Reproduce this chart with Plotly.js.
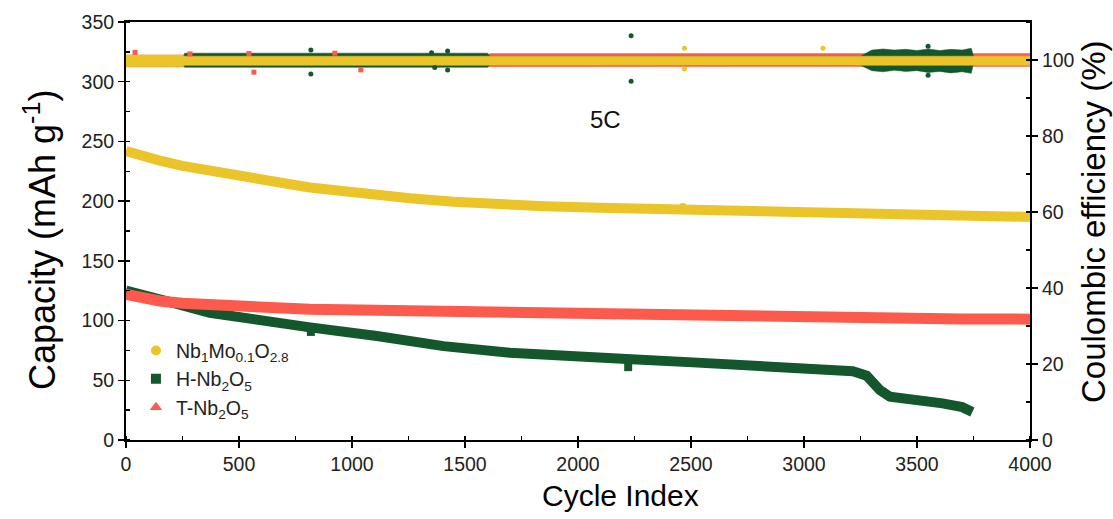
<!DOCTYPE html>
<html>
<head>
<meta charset="utf-8">
<script src="https://cdn.plot.ly/plotly-3.0.1.min.js"></script>
<style>html,body{margin:0;padding:0;background:#fff}#chart{width:1113px;height:519px}</style>
</head>
<body>
<div id="chart"></div>
<script>
// ---- Capacity data (mAh g-1) ----
var yellowCycles = [0, 50, 150, 250, 372, 500, 593, 700, 814, 1035, 1256, 1450, 1654, 1850, 2097, 2300, 2464, 2614, 2800, 3000, 3070, 3100, 3424, 3700, 4000];
var yellowCap    = [242, 240, 234, 229.5, 225, 221, 218.4, 215, 211.4, 206.1, 202.4, 199.5, 197, 195.8, 194.5, 193.5, 192.6, 191.9, 191.2, 190.8, 190.5, 189.5, 188.4, 187.6, 186.8];

var greenCycles = [0, 50, 150, 225, 371, 520, 814, 1110, 1405, 1699, 1920, 2215, 2508, 2804, 3025, 3150, 3216, 3277, 3335, 3380, 3465, 3613, 3700, 3745];
var greenCap    = [125, 123, 118, 114, 106.5, 101.9, 94.3, 87.1, 78.6, 73.1, 70.3, 67.8, 65, 62.2, 61.1, 60, 57.5, 53.9, 41.9, 36.3, 34.9, 30.7, 27.5, 23.5];

var redCycles = [0, 50, 150, 250, 371, 500, 593, 814, 1035, 1256, 1500, 1699, 1965, 2300, 2656, 3000, 3392, 3700, 4000];
var redCap    = [122, 120, 116.4, 114.5, 113, 111.2, 110.2, 109.4, 108.8, 108.2, 107.3, 106.6, 104.8, 103.2, 102.2, 101.8, 101.5, 101.3, 101.2];

// capacity outliers
var yellowCapOutX = [2464];
var yellowCapOutY = [195];
var greenCapOutX  = [818, 2222];
var greenCapOutY  = [90.5, 61];

// ---- Coulombic efficiency (%) bands: cycle, upper edge, lower edge ----
var yellowCeX     = [0, 250, 260, 4000];
var yellowCeUpper = [101.3, 101.3, 101.0, 101.0];
var yellowCeLower = [98.3, 98.3, 98.6, 98.6];

var greenCeX     = [0, 250, 260, 1600, 1610, 3250, 3300, 3350, 3400, 3450, 3500, 3550, 3600, 3650, 3700, 3740, 3750];
var greenCeUpper = [100.6, 100.6, 101.8, 101.8, 101.0, 101.0, 102.6, 102.9, 102.6, 102.8, 102.5, 102.9, 102.5, 102.8, 102.6, 103.1, 101.0];
var greenCeLower = [99.2, 99.2, 98.1, 98.1, 98.6, 98.6, 97.2, 96.9, 97.3, 97.0, 97.2, 96.7, 97.0, 96.6, 96.9, 96.5, 99.0];

var redCeX     = [0, 1600, 1610, 4000];
var redCeUpper = [101.3, 101.3, 101.7, 101.7];
var redCeLower = [98.2, 98.2, 98.3, 98.3];

// CE outliers
var yellowCeOutX = [2471, 2471, 3084];
var yellowCeOutY = [103.1, 97.6, 103.1];
var greenCeOutX  = [818, 818, 1352, 1366, 1423, 1423, 2235, 2235, 3549, 3549];
var greenCeOutY  = [102.6, 96.3, 101.9, 98.0, 102.4, 97.4, 106.4, 94.4, 103.6, 96.0];
var redCeOutX    = [40, 283, 544, 566, 924, 1039];
var redCeOutY    = [102.0, 101.6, 101.7, 96.8, 101.8, 97.4];

// labels
var seriesNames = ['Nb<sub>1</sub>Mo<sub>0.1</sub>O<sub>2.8</sub>', 'H-Nb<sub>2</sub>O<sub>5</sub>', 'T-Nb<sub>2</sub>O<sub>5</sub>'];
var xTitle  = 'Cycle Index';
var yTitle  = 'Capacity (mAh g<sup>-1</sup>)';
var y2Title = 'Coulombic efficiency (%)';
var rateLabel = '5C';

var YEL = 'rgb(235,196,42)', GRN = 'rgb(21,87,45)', RED = 'rgb(253,90,78)';

function band(xs, up, lo, color) {
  var bx = xs.concat(xs.slice().reverse());
  var by = up.concat(lo.slice().reverse());
  return {x: bx, y: by, yaxis: 'y2', mode: 'lines', fill: 'toself', fillcolor: color,
          line: {width: 0.5, color: color}, showlegend: false, hoverinfo: 'skip'};
}
function pts(xs, ys, color, sym, size, axis) {
  return {x: xs, y: ys, yaxis: axis, mode: 'markers', showlegend: false,
          marker: {color: color, symbol: sym, size: size, line: {width: 0}}};
}

var traces = [
  band(redCeX, redCeUpper, redCeLower, RED),
  band(greenCeX, greenCeUpper, greenCeLower, GRN),
  band(yellowCeX, yellowCeUpper, yellowCeLower, YEL),
  pts(redCeOutX, redCeOutY, RED, 'square', 5, 'y2'),
  pts(greenCeOutX, greenCeOutY, GRN, 'circle', 5, 'y2'),
  pts(yellowCeOutX, yellowCeOutY, YEL, 'circle', 5, 'y2'),
  {x: greenCycles, y: greenCap, mode: 'lines', line: {color: GRN, width: 10}, showlegend: false},
  pts(greenCapOutX, greenCapOutY, GRN, 'square', 8, 'y'),
  {x: redCycles, y: redCap, mode: 'lines', line: {color: RED, width: 11}, showlegend: false},
  {x: yellowCycles, y: yellowCap, mode: 'lines', line: {color: YEL, width: 10}, showlegend: false},
  pts(yellowCapOutX, yellowCapOutY, YEL, 'circle', 8, 'y'),
  {x: [null], y: [null], mode: 'markers', name: seriesNames[0], marker: {color: YEL, symbol: 'circle', size: 10}},
  {x: [null], y: [null], mode: 'markers', name: seriesNames[1], marker: {color: GRN, symbol: 'square', size: 10}},
  {x: [null], y: [null], mode: 'markers', name: seriesNames[2], marker: {color: RED, symbol: 'triangle-up', size: 11}}
];

var FONT = 'Arial, "Liberation Sans", sans-serif';
var TICKF = {size: 19.5, color: '#222', family: FONT};
var layout = {
  width: 1113, height: 519,
  margin: {l: 126, r: 83, t: 22, b: 79},
  paper_bgcolor: '#fff', plot_bgcolor: '#fff',
  font: {family: FONT, color: '#000'},
  showlegend: true,
  legend: {x: 0.011, y: 0.26, xanchor: 'left', yanchor: 'top', bgcolor: 'rgba(0,0,0,0)',
           font: {size: 19.5, family: FONT, color: '#222'}, itemwidth: 30, tracegroupgap: 0},
  xaxis: {
    range: [0, 4000], dtick: 500, tick0: 0, showgrid: false, zeroline: false,
    showline: true, linecolor: '#000', linewidth: 2, mirror: true,
    ticks: 'outside', ticklen: 6, tickwidth: 1.5, tickcolor: '#000',
    minor: {dtick: 250, ticks: 'inside', ticklen: 4, tickwidth: 1.5, tickcolor: '#000'},
    tickfont: TICKF
  },
  yaxis: {
    range: [0, 350], dtick: 50, tick0: 0, showgrid: false, zeroline: false,
    showline: true, linecolor: '#000', linewidth: 2,
    ticks: 'outside', ticklen: 6, tickwidth: 1.5, tickcolor: '#000',
    minor: {dtick: 25, ticks: 'inside', ticklen: 4, tickwidth: 1.5, tickcolor: '#000'},
    tickfont: TICKF
  },
  yaxis2: {
    overlaying: 'y', side: 'right',
    range: [0, 110], dtick: 20, tick0: 0, showgrid: false, zeroline: false,
    showline: true, linecolor: '#000', linewidth: 2,
    ticks: 'outside', ticklen: 6, tickwidth: 1.5, tickcolor: '#000',
    minor: {dtick: 10, ticks: 'inside', ticklen: 4, tickwidth: 1.5, tickcolor: '#000'},
    tickfont: TICKF
  },
  annotations: [
    {x: 2120, y: 268, xref: 'x', yref: 'y', text: rateLabel, showarrow: false,
     font: {size: 24, color: '#111', family: FONT}},
    {x: 620, y: 495, xref: 'paper', yref: 'paper', text: xTitle, showarrow: false,
     font: {size: 30, color: '#000', family: FONT}},
    {x: 40, y: 240, xref: 'paper', yref: 'paper', text: yTitle, showarrow: false, textangle: -90,
     font: {size: 36, color: '#000', family: FONT}},
    {x: 1093, y: 222, xref: 'paper', yref: 'paper', text: y2Title, showarrow: false, textangle: -90,
     font: {size: 33, color: '#000', family: FONT}}
  ]
};
// convert pixel anchors of title annotations to paper coordinates
(function () {
  var pw = 1113 - 126 - 83, ph = 519 - 22 - 79;
  for (var i = 1; i < layout.annotations.length; i++) {
    var a = layout.annotations[i];
    a.x = (a.x - 126) / pw;
    a.y = (519 - 79 - a.y) / ph;
    a.xanchor = 'center'; a.yanchor = 'middle';
  }
})();

Plotly.newPlot('chart', traces, layout, {displayModeBar: false, staticPlot: true});
</script>
</body>
</html>
